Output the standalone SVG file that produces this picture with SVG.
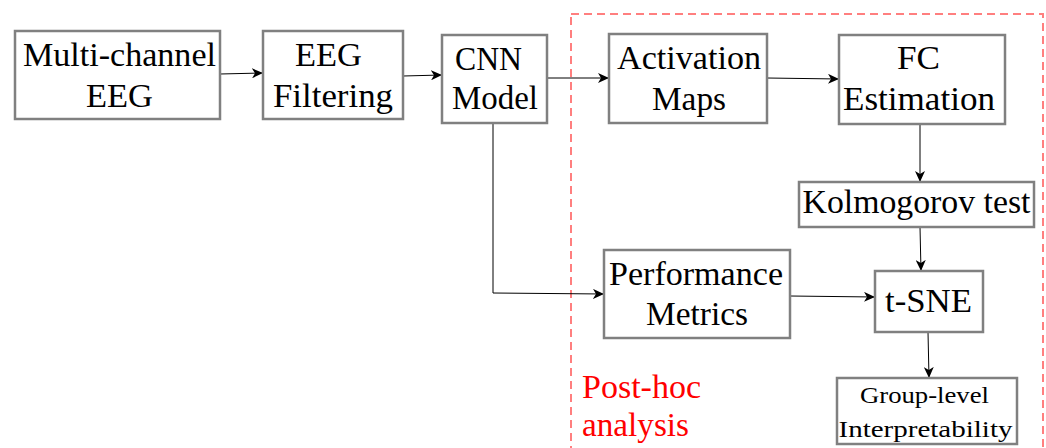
<svg xmlns="http://www.w3.org/2000/svg" width="1046" height="448" viewBox="0 0 1046 448">
<style>
.box{fill:#fff;stroke:#808080;stroke-width:2.5}
.t{font-family:"Liberation Serif","DejaVu Serif",serif;font-size:33px;fill:#000;text-anchor:middle}
.s{font-size:23px}
.r{font-family:"Liberation Serif","DejaVu Serif",serif;font-size:33px;fill:#ff0000}
.c{fill:none;stroke:#000;stroke-width:1}
</style>
<defs>
<marker id="ah" markerWidth="12" markerHeight="10" refX="11" refY="5" orient="auto" markerUnits="userSpaceOnUse">
<path d="M0,0 L11,5 L0,10 L3,5 Z" fill="#000"/>
</marker>
</defs>
<rect x="571" y="14" width="472" height="450" fill="none" stroke="#ff7f7f" stroke-width="2" stroke-dasharray="8,5"/>
<text class="r" x="582" y="398" textLength="119" lengthAdjust="spacingAndGlyphs">Post-hoc</text>
<text class="r" x="582" y="436" textLength="107" lengthAdjust="spacingAndGlyphs">analysis</text>
<g id="connectors">
<path class="c" d="M220,74 L263,73" marker-end="url(#ah)"/>
<path class="c" d="M403,76 L442,75" marker-end="url(#ah)"/>
<path class="c" d="M547,78 L609,78" marker-end="url(#ah)"/>
<path class="c" d="M767,78 L839,79" marker-end="url(#ah)"/>
<path class="c" d="M920,124 L920,182" marker-end="url(#ah)"/>
<path class="c" d="M920,227 L921,271" marker-end="url(#ah)"/>
<path class="c" d="M493,123 L493,293 L604,294" marker-end="url(#ah)"/>
<path class="c" d="M790,296 L875,297" marker-end="url(#ah)"/>
<path class="c" d="M928,332 L929,378" marker-end="url(#ah)"/>
</g>
<g id="multi"><rect class="box" x="15" y="31" width="205" height="88"/><text class="t" x="119.5" y="66" textLength="193" lengthAdjust="spacingAndGlyphs">Multi-channel</text><text class="t" x="119.5" y="107" textLength="67" lengthAdjust="spacingAndGlyphs">EEG</text></g>
<g id="filter"><rect class="box" x="263" y="31" width="140" height="88"/><text class="t" x="328.5" y="66" textLength="67" lengthAdjust="spacingAndGlyphs">EEG</text><text class="t" x="333" y="107" textLength="120" lengthAdjust="spacingAndGlyphs">Filtering</text></g>
<g id="cnn"><rect class="box" x="442" y="35" width="105" height="88"/><text class="t" x="488.5" y="70" textLength="67" lengthAdjust="spacingAndGlyphs">CNN</text><text class="t" x="495" y="109" textLength="86" lengthAdjust="spacingAndGlyphs">Model</text></g>
<g id="act"><rect class="box" x="609" y="34" width="158" height="89"/><text class="t" x="689" y="69" textLength="144" lengthAdjust="spacingAndGlyphs">Activation</text><text class="t" x="689" y="110" textLength="74" lengthAdjust="spacingAndGlyphs">Maps</text></g>
<g id="fc"><rect class="box" x="839" y="35" width="166" height="89"/><text class="t" x="918.5" y="69" textLength="43" lengthAdjust="spacingAndGlyphs">FC</text><text class="t" x="919" y="110" textLength="152" lengthAdjust="spacingAndGlyphs">Estimation</text></g>
<g id="kolmo"><rect class="box" x="799" y="182" width="235" height="45"/><text class="t" x="916.5" y="213" textLength="228" lengthAdjust="spacingAndGlyphs">Kolmogorov test</text></g>
<g id="perf"><rect class="box" x="604" y="250" width="186" height="88"/><text class="t" x="696" y="285" textLength="174" lengthAdjust="spacingAndGlyphs">Performance</text><text class="t" x="697" y="325" textLength="102" lengthAdjust="spacingAndGlyphs">Metrics</text></g>
<g id="tsne"><rect class="box" x="875" y="271" width="108" height="61"/><text class="t" x="928.5" y="312" textLength="87" lengthAdjust="spacingAndGlyphs">t-SNE</text></g>
<g id="group"><rect class="box" x="837" y="378" width="180" height="66"/><text class="t s" x="924.5" y="403" textLength="129" lengthAdjust="spacingAndGlyphs">Group-level</text><text class="t s" x="925.5" y="437" textLength="174" lengthAdjust="spacingAndGlyphs">Interpretability</text></g>
</svg>
